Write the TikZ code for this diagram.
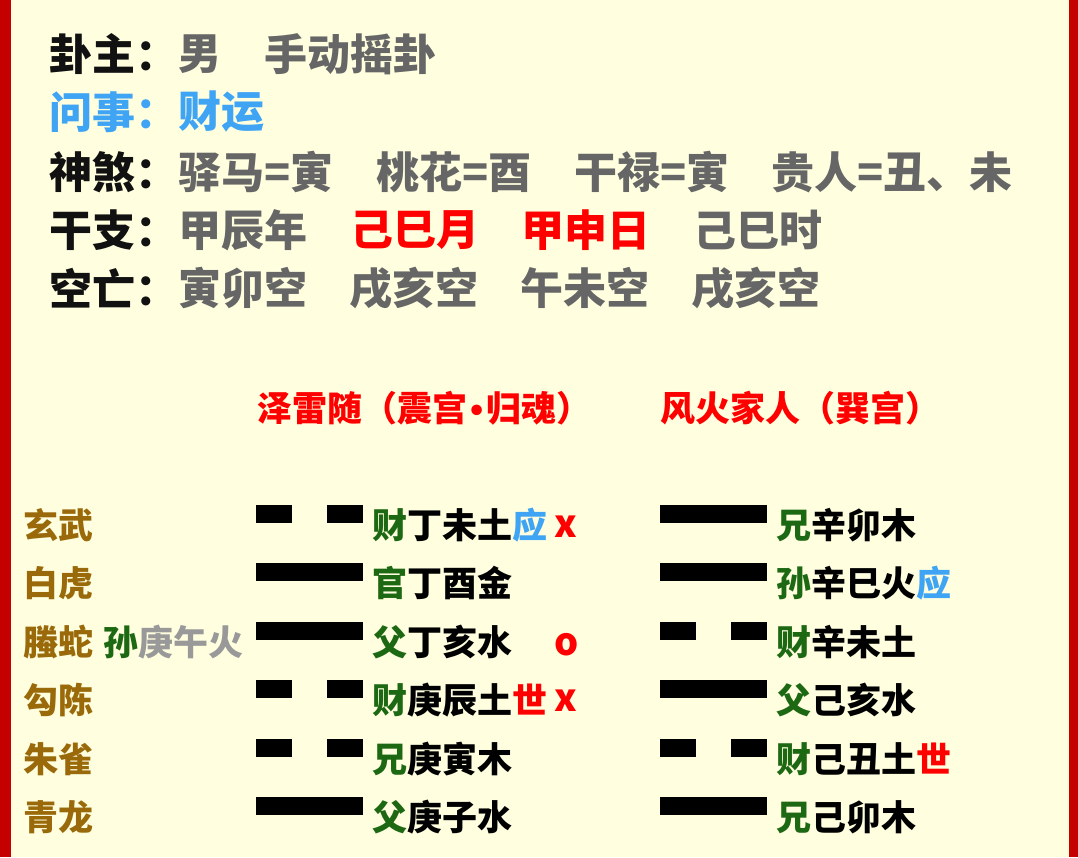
\documentclass[tikz,border=0pt]{standalone}
\usepackage{fontspec}
\setmainfont{Noto Sans CJK SC}
\newfontfamily\bulletfont{DejaVu Sans}
\usepackage{tikz}
\usetikzlibrary{positioning}
\definecolor{paper}{HTML}{FFFFE0}
\definecolor{frame}{HTML}{C40000}
\definecolor{ink}{HTML}{111111}
\definecolor{muted}{HTML}{666666}
\definecolor{faint}{HTML}{999999}
\definecolor{sky}{HTML}{3FA4F4}
\definecolor{alert}{HTML}{FF0000}
\definecolor{kin}{HTML}{1D6812}
\definecolor{spirit}{HTML}{9A6A0A}

\begin{document}
\begin{tikzpicture}[x=1pt,y=-1pt,
 head/.style={anchor=west,inner sep=0pt,text=ink,font=\fontsize{43}{48}\selectfont\bfseries},
 info/.style={head,text=muted},
 title/.style={anchor=west,inner sep=0pt,text=alert,font=\fontsize{35}{40}\selectfont\bfseries},
 body/.style={anchor=west,inner sep=0pt,text=black,font=\fontsize{35}{40}\selectfont\bfseries},
 spirit/.style={body,text=spirit},
 flag/.style={anchor=west,inner sep=0pt,text=alert,font=\fontsize{38}{40}\selectfont\bfseries}]
 \useasboundingbox (0,0) rectangle (1078,857);
 \fill[paper] (0,0) rectangle (1078,857);
 \fill[frame] (0,0) rectangle (11,857);
 \fill[frame] (1069,0) rectangle (1078,857);

 % header
 \node[head] (k1) at (49,54) {卦主：};
 \node[info,right=0pt of k1] (k1a) {男};
 \node[info] (k1b) at (264,54) {手动摇卦};
 \node[head,text=sky] (k2) at (49,112) {问事：};
 \node[info,text=sky,right=0pt of k2] (k2a) {财运};
 \node[head] (k3) at (49,172) {神煞：};
 \node[info,right=0pt of k3] (k3a) {驿马=寅};
 \node[info] (k3b) at (376,172) {桃花=酉};
 \node[info] (k3c) at (574,172) {干禄=寅};
 \node[info] (k3d) at (771,172) {贵人=丑、未};
 \node[head] (k4) at (49,230) {干支：};
 \node[info,right=0pt of k4] (k4a) {甲辰年};
 \node[info,text=alert] (k4b) at (350,230) {己巳月};
 \node[info,text=alert] (k4c) at (521,230) {甲申日};
 \node[info] (k4d) at (693,230) {己巳时};
 \node[head] (k5) at (49,288) {空亡：};
 \node[info,right=0pt of k5] (k5a) {寅卯空};
 \node[info] (k5b) at (349,288) {戌亥空};
 \node[info] (k5c) at (520,288) {午未空};
 \node[info] (k5d) at (691,288) {戌亥空};

 % hexagram names
 \node[title] (main) at (257,408) {泽雷随（震宫{\bulletfont\fontsize{30}{40}\selectfont •}归魂）};
 \node[title] (change) at (660,408) {风火家人（巽宫）};

 % lines, top to bottom
 \foreach \k [count=\n from 0] in {0,1,1,0,0,1}{
  \pgfmathsetmacro\yc{514+58.4*\n}
  \fill (256,\yc-9) rectangle +(36,18);
  \fill (327,\yc-9) rectangle +(36,18);
  \ifnum\k=1 \fill (291,\yc-9) rectangle +(37,18); \fi
 }
 \foreach \k [count=\n from 0] in {1,1,0,1,0,1}{
  \pgfmathsetmacro\yc{514+58.4*\n}
  \fill (660,\yc-9) rectangle +(36,18);
  \fill (731,\yc-9) rectangle +(36,18);
  \ifnum\k=1 \fill (695,\yc-9) rectangle +(37,18); \fi
 }

 % six spirits
 \node[spirit] (s1) at (23,525) {玄武};
 \node[spirit] (s2) at (23,583) {白虎};
 \node[spirit] (s3) at (23,642) {螣蛇};
 \node[spirit] (s4) at (23,700) {勾陈};
 \node[spirit] (s5) at (23,759) {朱雀};
 \node[spirit] (s6) at (23,817) {青龙};
 \node[body,right=10pt of s3] (fu) {\color{kin}孙\color{faint}庚午火};

 % main hexagram
 \node[body] (l1) at (372,525) {\color{kin}财\color{black}丁未土\color{sky}应};
 \node[body] (l2) at (372,583) {\color{kin}官\color{black}丁酉金};
 \node[body] (l3) at (372,642) {\color{kin}父\color{black}丁亥水};
 \node[body] (l4) at (372,700) {\color{kin}财\color{black}庚辰土\color{alert}世};
 \node[body] (l5) at (372,759) {\color{kin}兄\color{black}庚寅木};
 \node[body] (l6) at (372,817) {\color{kin}父\color{black}庚子水};
 \node[flag] (m1) at (554,527) {x};
 \node[flag] (m3) at (554,645) {o};
 \node[flag] (m4) at (554,701) {x};

 % changed hexagram
 \node[body] (r1) at (776,525) {\color{kin}兄\color{black}辛卯木};
 \node[body] (r2) at (776,583) {\color{kin}孙\color{black}辛巳火\color{sky}应};
 \node[body] (r3) at (776,642) {\color{kin}财\color{black}辛未土};
 \node[body] (r4) at (776,700) {\color{kin}父\color{black}己亥水};
 \node[body] (r5) at (776,759) {\color{kin}财\color{black}己丑土\color{alert}世};
 \node[body] (r6) at (776,817) {\color{kin}兄\color{black}己卯木};
\end{tikzpicture}
\end{document}
